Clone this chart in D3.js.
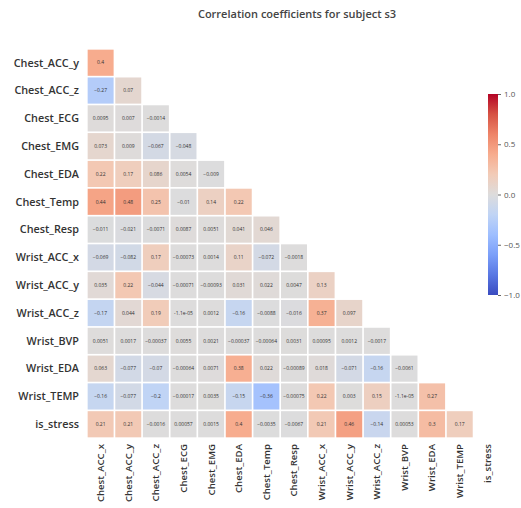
<!DOCTYPE html>
<html>
<head>
<meta charset="utf-8">
<script src="https://cdn.jsdelivr.net/npm/d3@7"></script>
<style>
  body { margin: 0; background: #fff; }
  text { font-family: "Open Sans", "DejaVu Sans", sans-serif; }
</style>
</head>
<body>
<svg width="521" height="508"></svg>
<script>
// labels
var rowLabels = ["Chest_ACC_y", "Chest_ACC_z", "Chest_ECG", "Chest_EMG", "Chest_EDA", "Chest_Temp",
    "Chest_Resp", "Wrist_ACC_x", "Wrist_ACC_y", "Wrist_ACC_z", "Wrist_BVP", "Wrist_EDA", "Wrist_TEMP", "is_stress"];
var colLabels = ["Chest_ACC_x", "Chest_ACC_y", "Chest_ACC_z", "Chest_ECG", "Chest_EMG", "Chest_EDA", "Chest_Temp",
    "Chest_Resp", "Wrist_ACC_x", "Wrist_ACC_y", "Wrist_ACC_z", "Wrist_BVP", "Wrist_EDA", "Wrist_TEMP", "is_stress"];

// lower triangle, one row per rowLabel
var corrRows = [
    [0.4],
    [-0.27, 0.07],
    [0.0095, 0.007, -0.0014],
    [0.073, 0.009, -0.067, -0.048],
    [0.22, 0.17, 0.086, 0.0054, -0.009],
    [0.44, 0.48, 0.25, -0.01, 0.14, 0.22],
    [-0.011, -0.021, -0.0071, 0.0087, 0.0051, 0.041, 0.046],
    [-0.069, -0.082, 0.17, -0.00073, 0.0014, 0.11, -0.072, -0.0018],
    [0.035, 0.22, -0.044, -0.00071, -0.00093, 0.031, 0.022, 0.0047, 0.13],
    [-0.17, 0.044, 0.19, -1.1e-05, 0.0012, -0.16, -0.0088, -0.016, 0.37, 0.097],
    [0.0051, 0.0017, -0.00037, 0.0055, 0.0021, -0.00037, -0.00064, 0.0031, 0.00095, 0.0012, -0.0017],
    [0.063, -0.077, -0.07, -0.00064, 0.0071, 0.38, 0.022, -0.00089, 0.018, -0.071, -0.16, -0.0061],
    [-0.16, -0.077, -0.2, -0.00017, 0.0035, -0.15, -0.36, -0.00075, 0.22, 0.003, 0.15, -1.1e-05, 0.27],
    [0.21, 0.21, -0.0016, 0.00057, 0.0015, 0.4, -0.0035, -0.0067, 0.21, 0.46, -0.14, 0.00053, 0.3, 0.17]
];

var cbTicks = [1.0, 0.5, 0.0, -0.5, -1.0];
var title = "Correlation coefficients for subject s3";

// coolwarm
var coolwarm = ["#3b4cc0", "#5977e3", "#7b9ff9", "#9ebeff", "#c0d4f5", "#dddcdc",
    "#f2cbb7", "#f7ac8e", "#ee8468", "#d65244", "#b40426"];
var color = d3.scaleLinear()
    .domain(d3.range(coolwarm.length).map(i => -1 + 2 * i / (coolwarm.length - 1)))
    .range(coolwarm)
    .interpolate(d3.interpolateRgb);

var svg = d3.select("svg");

var x = d3.scaleBand().domain(colLabels).range([86, 502]).padding(0.06);
var y = d3.scaleBand().domain(rowLabels).range([48, 439]).padding(0.06);

// python-ish .2g
function fmt(v) {
    if (v !== 0 && Math.abs(v) < 1e-4) {
        return v.toExponential(1).replace("e-", "e-0");
    }
    return d3.format(".2~g")(v);
}

var cells = [];
corrRows.forEach((row, i) => {
    row.forEach((v, j) => cells.push({ r: rowLabels[i], c: colLabels[j], v: v }));
});

var g = svg.append("g");
g.selectAll("rect")
    .data(cells)
    .enter().append("rect")
    .attr("x", d => x(d.c))
    .attr("y", d => y(d.r))
    .attr("width", x.bandwidth())
    .attr("height", y.bandwidth())
    .attr("fill", d => color(d.v));

g.selectAll("text.annot")
    .data(cells)
    .enter().append("text")
    .attr("class", "annot")
    .attr("x", d => x(d.c) + x.bandwidth() / 2)
    .attr("y", d => y(d.r) + y.bandwidth() / 2)
    .attr("dy", "0.35em")
    .attr("text-anchor", "middle")
    .attr("font-size", 5)
    .attr("fill", d => Math.abs(d.v) > 0.6 ? "#fff" : "#333")
    .text(d => fmt(d.v));

// row labels
svg.append("g").selectAll("text")
    .data(rowLabels)
    .enter().append("text")
    .attr("x", 79)
    .attr("y", d => y(d) + y.bandwidth() / 2)
    .attr("dy", "0.35em")
    .attr("text-anchor", "end")
    .attr("font-size", 10.8)
    .attr("font-weight", 600)
    .attr("fill", "#333")
    .text(d => d);

// column labels
svg.append("g").selectAll("text")
    .data(colLabels)
    .enter().append("text")
    .attr("transform", d => "translate(" + (x(d) + x.bandwidth() / 2) + ",444) rotate(-90)")
    .attr("dy", "0.35em")
    .attr("text-anchor", "end")
    .attr("font-size", 9.6)
    .attr("font-weight", 600)
    .attr("fill", "#333")
    .text(d => d);

svg.append("text")
    .attr("x", 297)
    .attr("y", 18)
    .attr("text-anchor", "middle")
    .attr("font-size", 11)
    .attr("font-weight", 600)
    .attr("fill", "#444")
    .text(title);

// colorbar
var cbY = d3.scaleLinear().domain([1, -1]).range([94, 295]);
var defs = svg.append("defs");
var grad = defs.append("linearGradient").attr("id", "cb")
    .attr("x1", 0).attr("y1", 1).attr("x2", 0).attr("y2", 0);
coolwarm.forEach((c, i) => {
    grad.append("stop").attr("offset", i / (coolwarm.length - 1)).attr("stop-color", c);
});
svg.append("rect")
    .attr("x", 488).attr("y", 94)
    .attr("width", 10).attr("height", 201)
    .attr("fill", "url(#cb)");

var cbAxis = svg.append("g")
    .attr("transform", "translate(498,0)")
    .call(d3.axisRight(cbY).tickValues(cbTicks).tickFormat(d3.format(".1f")).tickSize(3).tickPadding(3));
cbAxis.select(".domain").remove();
cbAxis.selectAll("line").attr("stroke", "#666");
cbAxis.selectAll("text").attr("font-size", 8).attr("fill", "#555")
    .attr("font-family", "\"Open Sans\", sans-serif");
</script>
</body>
</html>
